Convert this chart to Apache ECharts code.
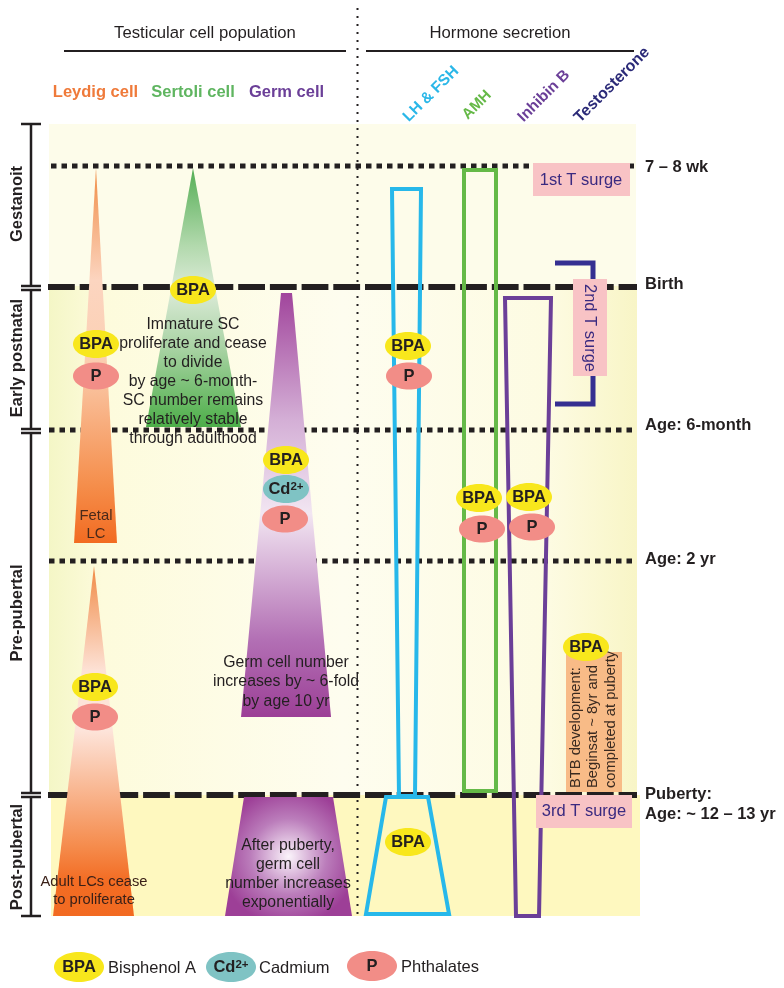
<!DOCTYPE html>
<html><head><meta charset="utf-8">
<style>html,body{margin:0;padding:0;background:#fff}#c{width:784px;height:988px}</style>
<script src="https://cdn.jsdelivr.net/npm/echarts@6/dist/echarts.min.js"></script>
</head><body><div id="c"></div>
<script>
// ---- data (x, y in picture units) ----
const bandGestation = [[49,124],[636,124],[636,286],[49,286]];
const bandChildhood = [[49,286],[637,286],[637,795],[49,795]];
const bandPostPubertal = [[51,795],[640,795],[640,916],[51,916]];

const leydigFetal = [[96,168],[117,543],[74,543]];
const leydigAdult = [[94,566],[134,916],[53,916]];
const sertoli = [[193,168],[241,427],[146,427]];
const germPre = [[281,293],[292,293],[331,717],[241,717]];
const germPost = [[244,797],[333,797],[352,916],[225,916]];

const lhFsh = [[392,189],[421,189],[415,796],[399,796]];
const lhFshPost = [[386,797],[428,797],[449,914],[366,914]];
const amh = [[464,170],[496,170],[496,791],[464,791]];
const inhibinB = [[505,298],[551,298],[539,916],[516,916]];
const testosterone = [[555,263],[593,263],[593,404],[555,404]];

const dottedRules = [[51,634,166],[49,634,430],[49,634,561]];
const dashedRules = [[48,637,287],[48,637,795]];
const sectionRules = [[64,346,51],[366,634,51]];
const periods = [
  [124,286],[290,429],[433,793],[797,916]
];
const tSurgeBoxes = [[533,163,630,196],[536,795,632,828]];
const secondSurgeBox = [573,279,607,376];
const btbBox = [566,652,622,792];

const bpaSpots = [[193,290],[96,344],[286,460],[95,687],[408,346],[479,498],[529,497],[586,647],[408,842]];
const phthalateSpots = [[96,376],[285,519],[95,717],[409,376],[482,529],[532,527]];
const cadmiumSpots = [[286,489]];

const sectionTitles = ['Testicular cell population','Hormone secretion'];
const cellLabels = ['Leydig cell','Sertoli cell','Germ cell'];
const hormoneLabels = ['LH & FSH','AMH','Inhibin B','Testosterone'];
const periodLabels = ['Gestanoit','Early postnatal','Pre-pubertal','Post-pubertal'];
const ageLabels = ['7 – 8 wk','Birth','Age: 6-month','Age: 2 yr','Puberty:','Age: ~ 12 – 13 yr'];
const noteSertoli = 'Immature SC\nproliferate and cease\nto divide\nby age ~ 6-month-\nSC number remains\nrelatively stable\nthrough adulthood';
const noteFetal = 'Fetal\nLC';
const noteGermPre = 'Germ cell number\nincreases by ~ 6-fold\nby age 10 yr';
const noteGermPost = 'After puberty,\ngerm cell\nnumber increases\nexponentially';
const noteAdult = 'Adult LCs cease\nto proliferate';
const surgeLabels = ['1st T surge','2nd T surge','3rd T surge'];
const btbLines = ['BTB development:','Beginsat ~ 8yr and','completed at puberty'];
const legendLabels = ['Bisphenol A','Cadmium','Phthalates'];
const legendSpots = [[79,967],[231,967],[372,966]];

// ---- styling and drawing ----
const G = echarts.graphic;
const FF = '"Liberation Sans", Arial, sans-serif';
const INK = '#231f20';
const YEL = '#f8e71c', TEAL = '#7fc3c4', SALM = '#f28d87';
const lin = (stops, h) => h ? new G.LinearGradient(0,0,1,0,stops) : new G.LinearGradient(0,0,0,1,stops);
const st = (o,c) => ({offset:o,color:c});

const items = [];
const poly = (pts, fill) => items.push({k:'poly', pts, fill});
const outline = (pts, color, w, closed=true) => items.push({k:'line', pts, color, w, closed});
const rect = (b, fill) => items.push({k:'poly', pts:[[b[0],b[1]],[b[2],b[1]],[b[2],b[3]],[b[0],b[3]]], fill});
const txt = (text,x,y,size,o={}) => items.push(Object.assign({k:'text',text,x,y,size},o));
const ell = (p,rx,ry,fill) => items.push({k:'ell',p,rx,ry,fill});

poly(bandGestation,'#fdfcea');
poly(bandChildhood, lin([st(0,'#f4f6c6'),st(0.09,'#fdfbdc'),st(0.5,'#fefdef'),st(0.85,'#fdfbe2'),st(1,'#f8f5c6')],true));
poly(bandPostPubertal,'#fef8bf');

dottedRules.forEach(r=>items.push({k:'line',pts:[[r[0],r[2]],[r[1],r[2]]],color:'#231f20',w:5,dash:[5.5,5]}));
dashedRules.forEach(r=>items.push({k:'line',pts:[[r[0],r[2]],[r[1],r[2]]],color:'#231f20',w:6,dash:[26.8,4.9]}));

poly(leydigFetal, lin([st(0,'#f08c45'),st(0.3,'#fcd5c0'),st(0.5,'#fbd0b4'),st(0.85,'#f58d4a'),st(1,'#f26b21')]));
poly(leydigAdult, lin([st(0,'#f08a45'),st(0.3,'#fde2d6'),st(0.47,'#fde4da'),st(0.8,'#f58c4d'),st(0.9,'#f36c23'),st(1,'#f26a21')]));
poly(sertoli, lin([st(0,'#55ae55'),st(0.3,'#b2d9ad'),st(0.47,'#dcebd8'),st(0.7,'#a7d2a2'),st(1,'#4cae48')]));
poly(germPre, lin([st(0,'#a1459c'),st(0.3,'#d4afd6'),st(0.52,'#f2e6f2'),st(0.82,'#b26fb4'),st(1,'#9c3f96')]));
items.push({k:'poly',pts:germPost,fill:new G.RadialGradient(0.5,0.5,0.58,[st(0,'#fbf4fb'),st(0.55,'#bb7dbb'),st(1,'#9d3f97')])});

outline(lhFsh,'#27b8ea',4);
outline(lhFshPost,'#27b8ea',4);
outline(amh,'#65b947',4);
outline(inhibinB,'#6b3f98',4);
outline(testosterone,'#352f91',5,false);

tSurgeBoxes.forEach(b=>rect(b,'#f8c3c5'));
rect(secondSurgeBox,'#f8c3c5');
rect(btbBox,'#f8bb87');

const BLUEV = '#3a2a80';
txt(surgeLabels[0],581,180,16.5,{color:BLUEV});
txt(surgeLabels[2],584,811,16.5,{color:BLUEV});
txt(surgeLabels[1],590,328,16.5,{color:BLUEV,rot:90});
[576,593,611].forEach((x,i)=>txt(btbLines[i],x,788,14.7,{rot:-90,align:'left',color:'#3a2a20'}));

txt(noteSertoli,193,382,15.8,{lh:19,color:INK});
txt(noteFetal,96,525,14.8,{lh:17.5,color:'#4a2a1a'});
txt(noteGermPre,286,682,15.8,{lh:19.5,color:INK});
txt(noteGermPost,288,874,15.8,{lh:19,color:INK});
txt(noteAdult,94,891,14.7,{lh:18,color:'#3a2018'});

const spot = (p,fill,rx=23,ry=14)=>ell(p,rx,ry,fill);
bpaSpots.forEach(p=>{spot(p,YEL);txt('BPA',p[0],p[1],16.5,{w:'bold',color:INK});});
phthalateSpots.forEach(p=>{spot(p,SALM,23,13.5);txt('P',p[0],p[1],16.5,{w:'bold',color:INK});});
cadmiumSpots.forEach(p=>{spot(p,TEAL,23,14);txt('{a|Cd}{b|2+}',p[0],p[1],16.5,{rich:true});});

// legend
ell(legendSpots[0],25,15,YEL); txt('BPA',legendSpots[0][0],legendSpots[0][1],16.5,{w:'bold',color:INK});
ell(legendSpots[1],25,15,TEAL); txt('{a|Cd}{b|2+}',legendSpots[1][0],legendSpots[1][1],16.5,{rich:true});
ell(legendSpots[2],25,15,SALM); txt('P',legendSpots[2][0],legendSpots[2][1],16.5,{w:'bold',color:INK});
txt(legendLabels[0],108,968,16.5,{align:'left',color:INK});
txt(legendLabels[1],259,968,16.5,{align:'left',color:INK});
txt(legendLabels[2],401,967,16.5,{align:'left',color:INK});

// header
sectionRules.forEach(r=>items.push({k:'line',pts:[[r[0],r[2]],[r[1],r[2]]],color:INK,w:2}));
txt(sectionTitles[0],205,33,16.7,{color:INK});
txt(sectionTitles[1],500,33,16.7,{color:INK});
const cellColors=['#ef7a3a','#5fb560','#6b3f98'], cellX=[95.5,193,286.5];
cellLabels.forEach((t,i)=>txt(t,cellX[i],92,16.5,{w:'bold',color:cellColors[i]}));
const hormoneColors=['#2ab7e8','#65b947','#6b3f98','#2b2a78'], hormoneXY=[[431,94],[477,105],[544,96],[612,85]];
const hormoneSizes=[15.5,15,15.5,16];
hormoneLabels.forEach((t,i)=>txt(t,hormoneXY[i][0],hormoneXY[i][1],hormoneSizes[i],{w:'bold',color:hormoneColors[i],rot:-45}));

// period brackets
periods.forEach(p=>{
  items.push({k:'line',pts:[[31,p[0]],[31,p[1]]],color:INK,w:2.5});
  items.push({k:'line',pts:[[21,p[0]],[41,p[0]]],color:INK,w:2.5});
  items.push({k:'line',pts:[[21,p[1]],[41,p[1]]],color:INK,w:2.5});
});
const periodY=[204,358,613,857];
periodLabels.forEach((t,i)=>txt(t,17,periodY[i],16.5,{w:'bold',rot:-90,color:INK}));

const ageY=[167,284,425,559,794,814];
ageLabels.forEach((t,i)=>txt(t,645,ageY[i],16.5,{w:'bold',align:'left',color:INK}));

items.push({k:'line',pts:[[357.5,8],[357.5,916]],color:INK,w:2,dash:[2,6]});

const chart = echarts.init(document.getElementById('c'),null,{renderer:'canvas'});
chart.setOption({
  animation:false, backgroundColor:'#fff',
  grid:{left:0,right:0,top:0,bottom:0},
  xAxis:{type:'value',min:0,max:784,show:false},
  yAxis:{type:'value',min:0,max:988,inverse:true,show:false},
  tooltip:{show:false},
  series:[{
    type:'custom',coordinateSystem:'cartesian2d',clip:false,silent:true,
    data:items.map((_,i)=>[i]),
    encode:{x:0,y:0},
    renderItem:(params,api)=>{
      const it=items[params.dataIndex], z2=params.dataIndex;
      if(it.k==='poly') return {type:'polygon',z2,shape:{points:it.pts.map(p=>api.coord(p))},style:{fill:it.fill}};
      if(it.k==='line'){
        const pts=it.pts.map(p=>api.coord(p));
        if(it.closed) pts.push(pts[0],pts[1]);
        return {type:'polyline',z2,shape:{points:pts},style:{fill:'none',stroke:it.color,lineWidth:it.w,lineDash:it.dash,lineJoin:'miter',lineCap:'butt'}};
      }
      if(it.k==='ell'){
        const c=api.coord(it.p);
        return {type:'ellipse',z2,shape:{cx:c[0],cy:c[1],rx:it.rx,ry:it.ry},style:{fill:it.fill}};
      }
      const c=api.coord([it.x,it.y]);
      const style={text:it.text,x:0,y:0,fill:it.color||INK,
        font:(it.w||'normal')+' '+it.size+'px '+FF,
        align:it.align||'center',verticalAlign:'middle'};
      if(it.lh) style.lineHeight=it.lh;
      if(it.rich){style.rich={
        a:{font:'bold '+it.size+'px '+FF,fill:INK},
        b:{font:'bold '+(it.size-5)+'px '+FF,fill:INK,verticalAlign:'top',lineHeight:it.size}};}
      return {type:'text',z2,x:c[0],y:c[1],rotation:-(it.rot||0)*Math.PI/180,style};
    }
  }]
});
</script></body></html>
